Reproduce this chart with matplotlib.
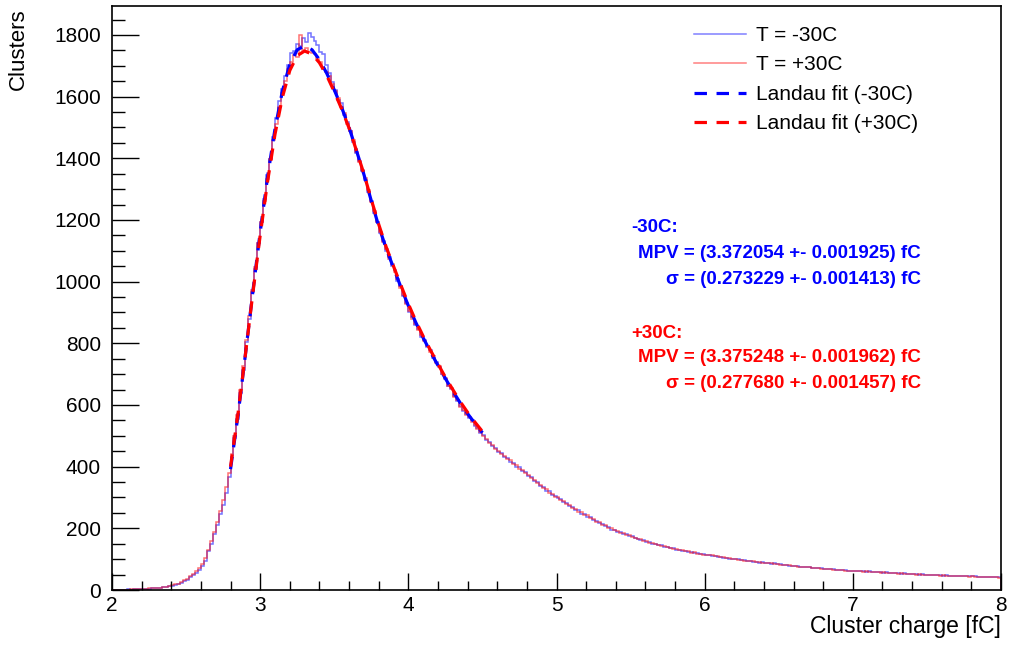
import numpy as np
import matplotlib
matplotlib.use("Agg")
import matplotlib.pyplot as plt
from matplotlib.ticker import MultipleLocator

plt.rcParams['font.family'] = ['Liberation Sans', 'DejaVu Sans']

# ---- data ----
bin_edges_start = 2.0
bin_width = 0.02
n_bins = 300

counts_m30 = [
    0, 0, 1, 0, 1, 2, 1, 2, 3, 2,
    3, 4, 3, 5, 6, 6, 8, 9, 10, 12,
    14, 16, 19, 24, 29, 34, 41, 48, 56, 66,
    78, 95, 125, 150, 180, 212, 245, 275, 315, 365,
    430, 492, 555, 640, 715, 805, 880, 968, 1040, 1125,
    1195, 1268, 1345, 1398, 1470, 1530, 1585, 1625, 1668, 1702,
    1740, 1748, 1772, 1765, 1790, 1778, 1806, 1792, 1782, 1768,
    1745, 1738, 1702, 1678, 1648, 1622, 1588, 1578, 1540, 1518,
    1488, 1452, 1418, 1390, 1358, 1330, 1292, 1262, 1222, 1195,
    1158, 1132, 1098, 1080, 1052, 1038, 1002, 985, 952, 932,
    902, 884, 858, 846, 822, 810, 788, 778, 752, 738,
    722, 702, 684, 662, 652, 628, 612, 598, 582, 572,
    558, 550, 532, 526, 508, 502, 488, 480, 466, 460,
    448, 444, 430, 428, 416, 412, 400, 398, 386, 382,
    370, 366, 354, 350, 338, 335, 322, 320, 308, 306,
    298, 296, 284, 282, 272, 270, 260, 258, 248, 246,
    238, 237, 226, 225, 216, 215, 206, 205, 196, 196,
    188, 188, 181, 180, 174, 174, 168, 167, 162, 161,
    156, 155, 150, 150, 145, 145, 140, 140, 136, 135,
    131, 131, 127, 127, 123, 123, 120, 119, 117, 116,
    114, 114, 111, 110, 108, 107, 104, 105, 101, 101,
    99, 99, 96, 97, 94, 94, 91, 92, 89, 90,
    87, 88, 85, 86, 83, 84, 81, 81, 78, 79,
    77, 77, 75, 75, 73, 74, 71, 72, 70, 70,
    68, 69, 67, 67, 65, 66, 64, 65, 63, 63,
    62, 62, 60, 61, 59, 60, 58, 59, 57, 57,
    56, 57, 55, 56, 54, 55, 53, 54, 52, 53,
    51, 52, 50, 51, 50, 50, 48, 49, 48, 48,
    47, 48, 46, 47, 46, 46, 45, 45, 44, 45,
    44, 44, 43, 43, 42, 43, 42, 42, 41, 41,
]

counts_p30 = [
    0, 1, 0, 1, 1, 1, 2, 2, 2, 3,
    3, 3, 5, 5, 6, 7, 8, 10, 11, 14,
    15, 18, 21, 26, 31, 37, 44, 52, 61, 71,
    85, 104, 130, 158, 188, 222, 255, 292, 333, 380,
    440, 500, 568, 648, 728, 812, 890, 972, 1048, 1125,
    1192, 1262, 1332, 1398, 1458, 1510, 1565, 1612, 1650, 1690,
    1712, 1735, 1728, 1800, 1752, 1758, 1745, 1742, 1738, 1722,
    1712, 1690, 1680, 1668, 1640, 1618, 1595, 1565, 1548, 1512,
    1490, 1458, 1422, 1388, 1362, 1335, 1298, 1258, 1230, 1192,
    1162, 1128, 1105, 1075, 1058, 1030, 1008, 978, 958, 928,
    905, 880, 862, 842, 826, 806, 792, 772, 758, 735,
    725, 700, 688, 660, 655, 625, 615, 595, 585, 568,
    562, 546, 535, 522, 512, 498, 490, 477, 470, 456,
    452, 440, 434, 424, 420, 408, 404, 394, 390, 378,
    374, 362, 358, 346, 342, 332, 326, 316, 312, 302,
    300, 292, 288, 278, 276, 266, 264, 254, 252, 244,
    242, 234, 230, 222, 220, 212, 210, 202, 200, 194,
    192, 186, 184, 178, 177, 172, 170, 165, 164, 159,
    158, 153, 152, 148, 147, 143, 142, 138, 137, 133,
    133, 129, 129, 125, 125, 121, 122, 118, 118, 115,
    115, 112, 112, 109, 109, 106, 106, 103, 103, 100,
    100, 97, 98, 95, 95, 93, 93, 90, 91, 88,
    88, 86, 86, 84, 84, 82, 82, 80, 80, 78,
    78, 76, 76, 74, 74, 73, 72, 71, 71, 69,
    69, 68, 68, 66, 66, 65, 65, 63, 63, 62,
    62, 61, 61, 59, 60, 58, 59, 57, 58, 56,
    57, 55, 56, 54, 55, 53, 54, 52, 53, 51,
    52, 50, 51, 49, 50, 48, 49, 48, 48, 47,
    48, 46, 47, 45, 46, 45, 45, 44, 45, 43,
    44, 43, 43, 42, 43, 41, 42, 41, 42, 40,
]

fit_x = [2.80, 2.85, 2.90, 2.95, 3.00, 3.05, 3.10, 3.15, 3.20, 3.25,
         3.30, 3.35, 3.40, 3.45, 3.50, 3.55, 3.60, 3.65, 3.70, 3.75,
         3.80, 3.85, 3.90, 3.95, 4.00, 4.05, 4.10, 4.15, 4.20, 4.25,
         4.30, 4.35, 4.40, 4.45, 4.50]
fit_m30 = [392, 565, 762, 965, 1160, 1340, 1495, 1618, 1705, 1752,
           1765, 1752, 1720, 1675, 1622, 1565, 1500, 1425, 1348, 1262,
           1180, 1108, 1045, 982, 922, 868, 818, 772, 728, 686,
           645, 607, 572, 540, 510]
fit_p30 = [400, 570, 762, 960, 1150, 1325, 1478, 1598, 1685, 1733,
           1748, 1738, 1710, 1668, 1616, 1560, 1498, 1425, 1350, 1266,
           1186, 1113, 1050, 988, 928, 873, 823, 777, 733, 690,
           650, 611, 576, 544, 514]

labels = ["T = -30C", "T = +30C", "Landau fit (-30C)", "Landau fit (+30C)"]
text_m30 = ["-30C:", "MPV = (3.372054 +- 0.001925) fC", "\u03c3 = (0.273229 +- 0.001413) fC"]
text_p30 = ["+30C:", "MPV = (3.375248 +- 0.001962) fC", "\u03c3 = (0.277680 +- 0.001457) fC"]

# ---- figure ----
W, H = 1010, 646
fig = plt.figure(figsize=(W / 100, H / 100), dpi=100)
L, R, T, B = 112, 1001, 6, 590
ax = fig.add_axes([L / W, 1 - B / H, (R - L) / W, (B - T) / H])

edges = bin_edges_start + bin_width * np.arange(n_bins + 1)

ax.stairs(counts_m30, edges, baseline=0, color=(0, 0, 1, 0.55), lw=1.1, label=labels[0])
ax.stairs(counts_p30, edges, baseline=0, color=(1, 0, 0, 0.55), lw=1.1, label=labels[1])
ax.plot(fit_x, fit_m30, color='#0000ff', lw=2.3, dashes=(3.9, 3.0),
        dash_capstyle='butt', label=labels[2])
ax.plot(fit_x, fit_p30, color='#ff0000', lw=2.3, dashes=(3.9, 3.0),
        dash_capstyle='butt', label=labels[3])

ax.set_xlim(2, 8)
ax.set_ylim(0, 1894)

ax.xaxis.set_major_locator(MultipleLocator(1))
ax.xaxis.set_minor_locator(MultipleLocator(0.2))
ax.yaxis.set_major_locator(MultipleLocator(200))
ax.yaxis.set_minor_locator(MultipleLocator(50))
ax.tick_params(axis='x', which='major', direction='in', length=12.6, width=1.0,
               labelsize=15, pad=4, top=False)
ax.tick_params(axis='x', which='minor', direction='in', length=6.3, width=1.0, top=False)
ax.tick_params(axis='y', which='major', direction='in', length=19.2, width=1.0,
               labelsize=15, pad=8, right=False)
ax.tick_params(axis='y', which='minor', direction='in', length=9.6, width=1.0, right=False)
for s in ax.spines.values():
    s.set_linewidth(1.2)

fig.text(18 / W, 1 - 8 / H, "Clusters", rotation=90, ha='center', va='top', fontsize=16)
fig.text(R / W, 1 - 627 / H, "Cluster charge [fC]", ha='right', va='center', fontsize=16.5)

# legend
leg = ax.legend(loc='upper left', bbox_to_anchor=(694 / W, 1 - 26 / H),
                bbox_transform=fig.transFigure, frameon=False, fontsize=15,
                handlelength=2.5, handletextpad=0.5, labelspacing=0.5,
                borderpad=0, borderaxespad=0)
leg_handles = leg.legend_handles
leg_handles[0].set_color('#8080ff')
leg_handles[1].set_color('#ff8080')

# fit results
for lines, col, ys in [(text_m30, '#0000ff', (227, 253, 280)),
                       (text_p30, '#ff0000', (333, 357, 383))]:
    fig.text(631 / W, 1 - ys[0] / H, lines[0], ha='left', va='center',
             fontsize=13.5, fontweight='bold', color=col)
    fig.text(921 / W, 1 - ys[1] / H, lines[1], ha='right', va='center',
             fontsize=13.5, fontweight='bold', color=col)
    fig.text(921 / W, 1 - ys[2] / H, lines[2], ha='right', va='center',
             fontsize=13.5, fontweight='bold', color=col)

fig.savefig("out.png", dpi=100)
